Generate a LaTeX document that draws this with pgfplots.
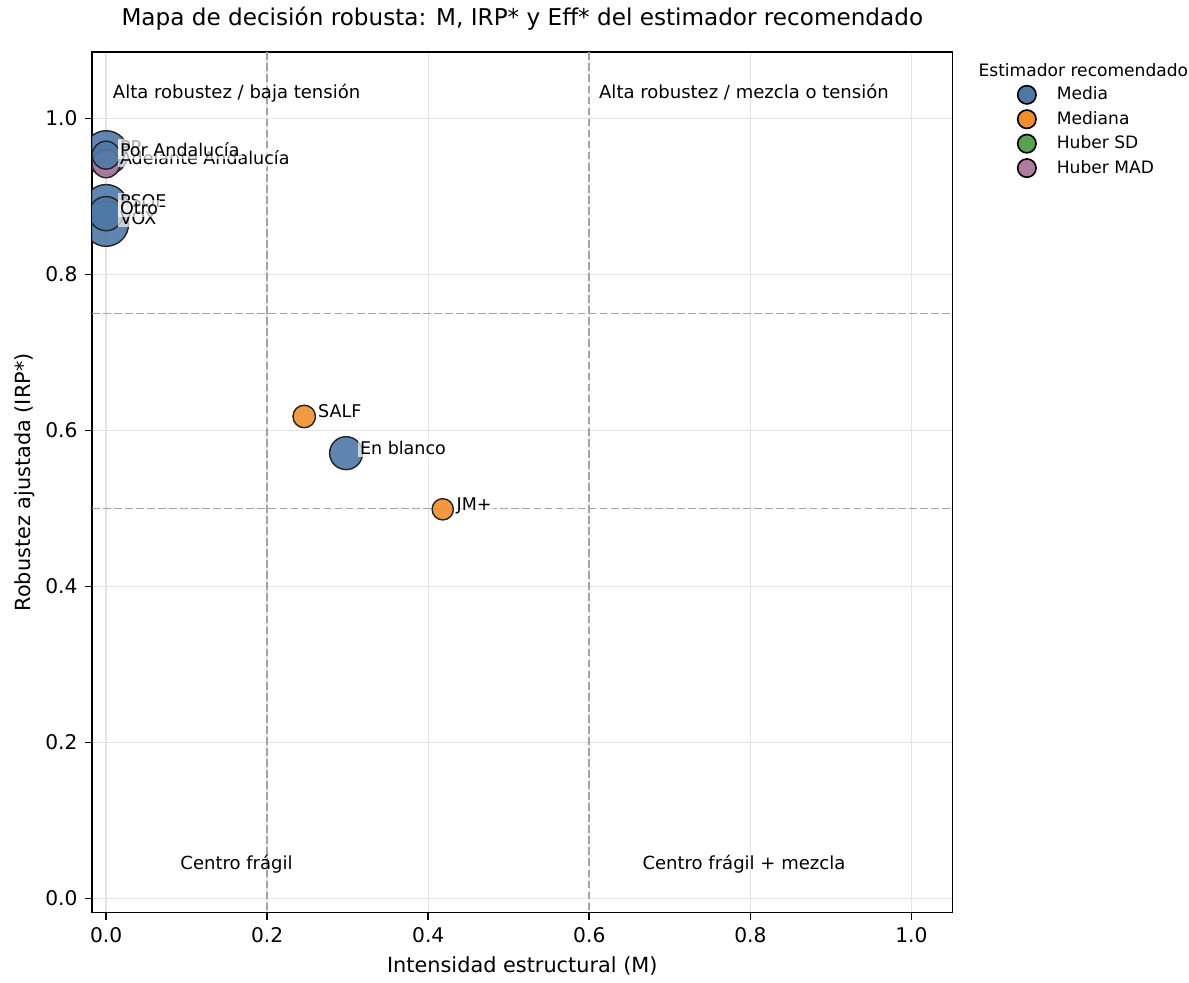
\documentclass[border=0pt]{standalone}
\usepackage{pgfplots}
\pgfplotsset{compat=1.18}
\usepackage{pgfplotstable}
\usepackage{fontspec}
\setmainfont{DejaVu Sans}

\definecolor{cMedia}{HTML}{4E79A7}
\definecolor{cMediana}{HTML}{F28E2B}
\definecolor{cHuberSD}{HTML}{59A14F}
\definecolor{cHuberMAD}{HTML}{B07AA1}

% M, IRP*, radio del marcador (pt), clase del estimador, etiqueta
\pgfplotstableread{
x     y     r     cls  label
0.000 0.956 10.6  0    PP
0.000 0.942 6.7   3    {Adelante Andalucía}
0.000 0.953 6.7   0    {Por Andalucía}
0.000 0.887 10.6  0    PSOE
0.000 0.865 10.8  0    VOX
0.000 0.878 8.2   0    Otro
0.246 0.618 5.4   1    SALF
0.298 0.571 7.9   0    {En blanco}
0.418 0.499 5.1   1    JM+
}\pts

\begin{document}
\begin{tikzpicture}
\begin{axis}[
    scale only axis,
    width=413pt, height=413pt,
    xmin=-0.0174, xmax=1.051,
    ymin=-0.018, ymax=1.085,
    xtick={0,0.2,0.4,0.6,0.8,1.0},
    ytick={0,0.2,0.4,0.6,0.8,1.0},
    tick align=outside, tick pos=left,
    major tick length=3.5pt,
    tick style={black, line width=0.8pt},
    axis line style={line width=0.8pt},
    ticklabel style={font=\fontsize{9.7}{12}\selectfont},
    /pgf/number format/.cd, fixed, fixed zerofill, precision=1, assume math mode=true,
    /pgfplots/.cd,
    grid=major,
    grid style={gray!22, line width=0.7pt},
    xlabel={Intensidad estructural (M)},
    ylabel={Robustez ajustada (IRP*)},
    label style={font=\fontsize{10}{12}\selectfont},
    ylabel style={yshift=-2pt},
    title={Mapa de decisión robusta: M, IRP* y Eff* del estimador recomendado},
    title style={font=\fontsize{11.1}{13}\selectfont, yshift=1pt},
    clip marker paths=true,
    legend style={draw=none, fill=none, at={(1.068,0.970)}, anchor=north west,
        font=\fontsize{8.2}{10}\selectfont, row sep=0pt, cells={anchor=west},
        /tikz/every odd column/.append style={column sep=8pt}},
]

% umbrales de los cuadrantes
\addplot[gray!72, line width=0.9pt, dash pattern=on 3.7pt off 1.6pt, forget plot] coordinates {(0.2,-0.1) (0.2,1.2)};
\addplot[gray!72, line width=0.9pt, dash pattern=on 3.7pt off 1.6pt, forget plot] coordinates {(0.6,-0.1) (0.6,1.2)};
\addplot[gray!72, line width=0.9pt, dash pattern=on 3.7pt off 1.6pt, forget plot] coordinates {(-0.1,0.75) (1.2,0.75)};
\addplot[gray!72, line width=0.9pt, dash pattern=on 3.7pt off 1.6pt, forget plot] coordinates {(-0.1,0.5) (1.2,0.5)};

\node[font=\fontsize{8.65}{10}\selectfont] at (axis cs:0.162,1.033) {Alta robustez / baja tensión};
\node[font=\fontsize{8.65}{10}\selectfont] at (axis cs:0.792,1.034) {Alta robustez / mezcla o tensión};
\node[font=\fontsize{8.65}{10}\selectfont] at (axis cs:0.162,0.044) {Centro frágil};
\node[font=\fontsize{8.65}{10}\selectfont] at (axis cs:0.792,0.044) {Centro frágil + mezcla};

% puntos
\addplot[scatter, only marks, mark=*, forget plot,
    point meta=explicit symbolic,
    scatter/classes={
        0={mark=*, draw=black!85, fill=cMedia},
        1={mark=*, draw=black!85, fill=cMediana},
        2={mark=*, draw=black!85, fill=cHuberSD},
        3={mark=*, draw=black!85, fill=cHuberMAD}},
    mark options={line width=0.7pt, fill opacity=0.9},
    visualization depends on={\thisrow{r} \as \rr},
    scatter/@pre marker code/.append style={/tikz/mark size=\rr},
] table[x=x, y=y, meta=cls] {\pts};

% etiquetas
\addplot[draw=none, mark=none, forget plot,
    point meta=explicit symbolic,
    nodes near coords,
    every node near coord/.append style={anchor=base west, xshift=5.5pt, yshift=-0.5pt,
        fill=white, fill opacity=0.65, text opacity=1, inner sep=1pt,
        font=\fontsize{8.4}{10}\selectfont, text=black},
] table[x=x, y=y, meta=label] {\pts};

\addlegendimage{only marks, mark=*, mark size=4.4pt, mark options={draw=black, line width=0.8pt, fill=cMedia}}
\addlegendentry{Media}
\addlegendimage{only marks, mark=*, mark size=4.4pt, mark options={draw=black, line width=0.8pt, fill=cMediana}}
\addlegendentry{Mediana}
\addlegendimage{only marks, mark=*, mark size=4.4pt, mark options={draw=black, line width=0.8pt, fill=cHuberSD}}
\addlegendentry{Huber SD}
\addlegendimage{only marks, mark=*, mark size=4.4pt, mark options={draw=black, line width=0.8pt, fill=cHuberMAD}}
\addlegendentry{Huber MAD}
\end{axis}
\node[anchor=west, font=\fontsize{8.2}{10}\selectfont, inner sep=0pt] at (425.3pt,404.6pt) {Estimador recomendado};
\path (-44.2pt,-31.2pt) rectangle (526.5pt,437pt);
\end{tikzpicture}
\end{document}
